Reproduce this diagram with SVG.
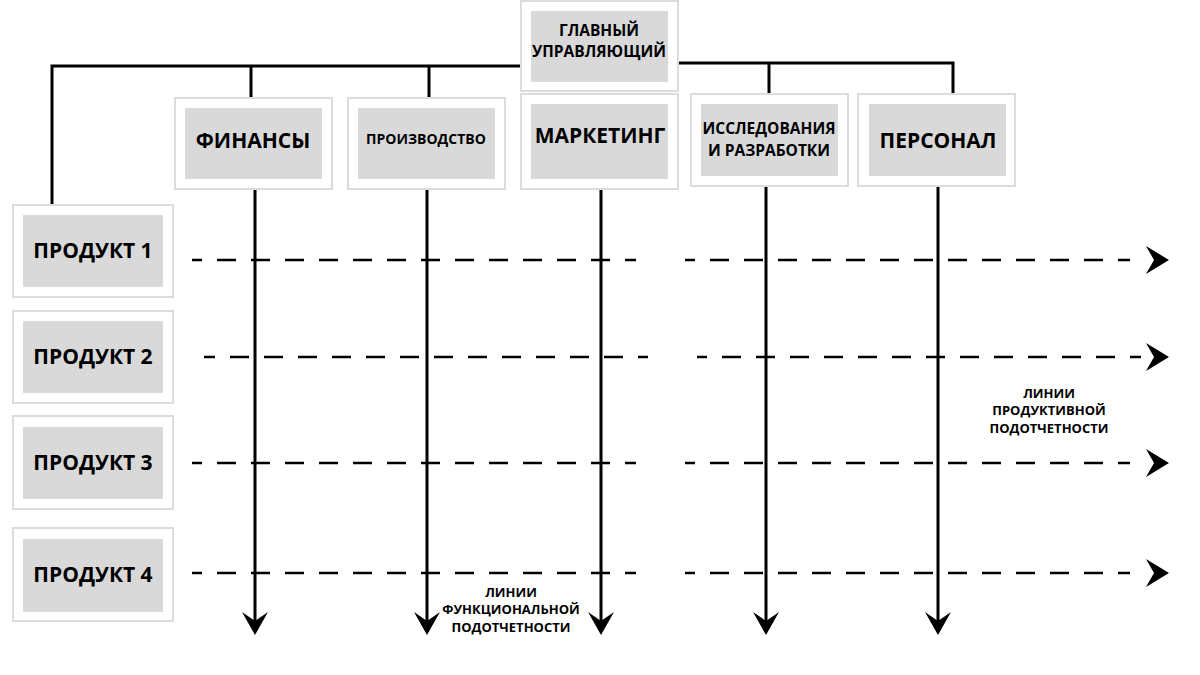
<svg xmlns="http://www.w3.org/2000/svg" width="1200" height="675" viewBox="0 0 1200 675">
<style>
.outer{fill:#ffffff;stroke:#dcdcdc;stroke-width:2}
.inner{fill:#d9d9d9}
.t{font-family:"Open Sans","Noto Sans","DejaVu Sans",sans-serif;font-weight:bold;fill:#000;text-anchor:middle}
.big{font-size:21px}
.mid{font-size:15.5px}
.sm{font-size:13px}
.solid{stroke:#000;stroke-width:3;fill:none}
.dash{stroke:#000;stroke-width:2.5;fill:none;stroke-dasharray:19 15;stroke-dashoffset:9}
.head{fill:#000}
</style>
<rect width="1200" height="675" fill="#ffffff"/>
<g id="connectors">
<polyline class="solid" points="521,66 52,66 52,205"/>
<line class="solid" x1="251" y1="66" x2="251" y2="98"/>
<line class="solid" x1="429" y1="66" x2="429" y2="98"/>
<polyline class="solid" points="679,63 953,63 953,95"/>
<line class="solid" x1="769" y1="63" x2="769" y2="95"/>
<line class="solid" x1="255" y1="190" x2="255" y2="626"/>
<line class="solid" x1="427" y1="190" x2="427" y2="626"/>
<line class="solid" x1="601" y1="190" x2="601" y2="626"/>
<line class="solid" x1="766" y1="187" x2="766" y2="626"/>
<line class="solid" x1="938" y1="187" x2="938" y2="626"/>
<path class="head" d="M242,612 L255,635 L268,612 L255,621 Z"/>
<path class="head" d="M414,612 L427,635 L440,612 L427,621 Z"/>
<path class="head" d="M588,612 L601,635 L614,612 L601,621 Z"/>
<path class="head" d="M753,612 L766,635 L779,612 L766,621 Z"/>
<path class="head" d="M925,612 L938,635 L951,612 L938,621 Z"/>
<line class="dash" x1="192" y1="260" x2="636" y2="260"/>
<line class="dash" x1="685" y1="260" x2="1130" y2="260"/>
<line class="dash" x1="204" y1="357" x2="648" y2="357" style="stroke-dashoffset:8"/>
<line class="dash" x1="697" y1="357" x2="1141" y2="357"/>
<line class="dash" x1="192" y1="463" x2="636" y2="463"/>
<line class="dash" x1="685" y1="463" x2="1130" y2="463"/>
<line class="dash" x1="192" y1="573" x2="636" y2="573"/>
<line class="dash" x1="685" y1="573" x2="1130" y2="573"/>
<path class="head" d="M1146,246 L1169,260 L1146,274 L1154,260 Z"/>
<path class="head" d="M1146,343 L1169,357 L1146,371 L1154,357 Z"/>
<path class="head" d="M1146,449 L1169,463 L1146,477 L1154,463 Z"/>
<path class="head" d="M1146,559 L1169,573 L1146,587 L1154,573 Z"/>
</g>
<g id="ceo">
<rect class="outer" x="521" y="1" width="157" height="90"/>
<rect class="inner" x="531" y="11" width="137" height="71"/>
<text class="t mid" x="599" y="36">ГЛАВНЫЙ</text>
<text class="t mid" x="599" y="57">УПРАВЛЯЮЩИЙ</text>
</g>
<g id="finance">
<rect class="outer" x="175" y="98" width="157" height="91"/>
<rect class="inner" x="185" y="108" width="137" height="71"/>
<text class="t big" x="253" y="148">ФИНАНСЫ</text>
</g>
<g id="production">
<rect class="outer" x="348" y="98" width="157" height="91"/>
<rect class="inner" x="358" y="108" width="137" height="71"/>
<text class="t" style="font-size:14px" x="426" y="144">ПРОИЗВОДСТВО</text>
</g>
<g id="marketing">
<rect class="outer" x="521" y="94" width="157" height="95"/>
<rect class="inner" x="531" y="104" width="137" height="75"/>
<text class="t big" x="600" y="143">МАРКЕТИНГ</text>
</g>
<g id="research">
<rect class="outer" x="691" y="94" width="157" height="92"/>
<rect class="inner" x="701" y="104" width="137" height="72"/>
<text class="t mid" x="769" y="134">ИССЛЕДОВАНИЯ</text>
<text class="t mid" x="769" y="156">И РАЗРАБОТКИ</text>
</g>
<g id="personnel">
<rect class="outer" x="858" y="94" width="157" height="92"/>
<rect class="inner" x="869" y="104" width="137" height="72"/>
<text class="t big" x="938" y="148">ПЕРСОНАЛ</text>
</g>
<g id="product1">
<rect class="outer" x="13" y="205" width="160" height="92"/>
<rect class="inner" x="23" y="215" width="140" height="72"/>
<text class="t big" x="93" y="258">ПРОДУКТ 1</text>
</g>
<g id="product2">
<rect class="outer" x="13" y="311" width="160" height="92"/>
<rect class="inner" x="23" y="321" width="140" height="72"/>
<text class="t big" x="93" y="364">ПРОДУКТ 2</text>
</g>
<g id="product3">
<rect class="outer" x="13" y="416" width="160" height="93"/>
<rect class="inner" x="23" y="427" width="140" height="72"/>
<text class="t big" x="93" y="470">ПРОДУКТ 3</text>
</g>
<g id="product4">
<rect class="outer" x="13" y="528" width="160" height="93"/>
<rect class="inner" x="23" y="539" width="140" height="73"/>
<text class="t big" x="93" y="582">ПРОДУКТ 4</text>
</g>
<g id="label-product">
<text class="t sm" x="1049" y="398">ЛИНИИ</text>
<text class="t sm" x="1049" y="415">ПРОДУКТИВНОЙ</text>
<text class="t sm" x="1049" y="433">ПОДОТЧЕТНОСТИ</text>
</g>
<g id="label-function">
<text class="t sm" x="511" y="597">ЛИНИИ</text>
<text class="t sm" x="511" y="614">ФУНКЦИОНАЛЬНОЙ</text>
<text class="t sm" x="511" y="632">ПОДОТЧЕТНОСТИ</text>
</g>
</svg>
